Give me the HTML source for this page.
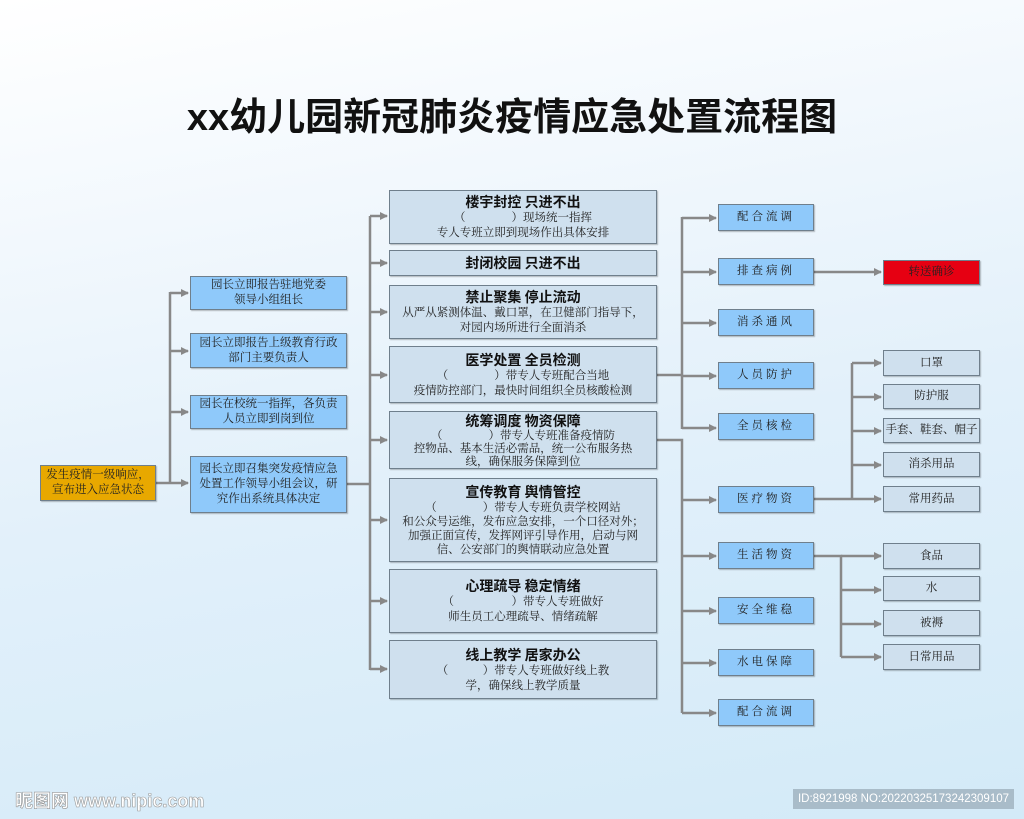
<!DOCTYPE html>
<html><head><meta charset="utf-8"><style>
*{margin:0;padding:0;box-sizing:border-box}
body{width:1024px;height:819px;overflow:hidden;position:relative;font-family:"Liberation Serif","Noto Serif CJK SC",serif;background:linear-gradient(170deg,#ffffff 0%,#f2f8fd 25%,#e2f0fa 55%,#d3eaf8 100%)}
.b{position:absolute;display:flex;flex-direction:column;align-items:center;justify-content:center;text-align:center;border:1px solid #6f7f8c;font-size:11.5px;line-height:15px;color:#222;box-shadow:1px 1px 1px rgba(0,0,0,.25)}
.bl{background:#8fc9fa}
.gr{background:#cfe0ee}
.h{font-family:"Noto Sans CJK SC",sans-serif;font-weight:bold;font-size:14px;line-height:18px;color:#111}
.sp{letter-spacing:3px}
svg{position:absolute;left:0;top:0}
</style></head><body>
<div style="position:absolute;left:0;top:86px;width:1024px;text-align:center;font-family:'Liberation Sans','Noto Sans CJK SC',sans-serif;font-weight:bold;font-size:38px;color:#111">xx幼儿园新冠肺炎疫情应急处置流程图</div>

<svg width="1024" height="819">
<defs><marker id="a" markerWidth="8" markerHeight="8" refX="7" refY="4" orient="auto" markerUnits="userSpaceOnUse"><path d="M0,0 L8,4 L0,8z" fill="#888"/></marker></defs>
<g stroke="#888" stroke-width="2.5" fill="none">
<path d="M156,483 H170 M170,292 V484"/>
<path d="M347,484 H370 M370,216 V670"/>
<path d="M657,375 H682 M682,217 V429 M657,440 H682 V713"/>
<path d="M814,499 H852 M852,363 V499"/>
<path d="M814,556 H841 V657"/>
</g>
<g stroke="#888" stroke-width="2.5" marker-end="url(#a)">
<line x1="170" y1="293" x2="188" y2="293"/><line x1="170" y1="351" x2="188" y2="351"/><line x1="170" y1="412" x2="188" y2="412"/><line x1="170" y1="483" x2="188" y2="483"/>
<line x1="370" y1="216" x2="387" y2="216"/><line x1="370" y1="263" x2="387" y2="263"/><line x1="370" y1="312" x2="387" y2="312"/><line x1="370" y1="375" x2="387" y2="375"/><line x1="370" y1="440" x2="387" y2="440"/><line x1="370" y1="520" x2="387" y2="520"/><line x1="370" y1="601" x2="387" y2="601"/><line x1="370" y1="669" x2="387" y2="669"/>
<line x1="682" y1="218" x2="716" y2="218"/><line x1="682" y1="272" x2="716" y2="272"/><line x1="682" y1="323" x2="716" y2="323"/><line x1="682" y1="376" x2="716" y2="376"/><line x1="682" y1="428" x2="716" y2="428"/><line x1="682" y1="500" x2="716" y2="500"/><line x1="682" y1="556" x2="716" y2="556"/><line x1="682" y1="611" x2="716" y2="611"/><line x1="682" y1="663" x2="716" y2="663"/><line x1="682" y1="713" x2="716" y2="713"/>
<line x1="814" y1="272" x2="881" y2="272"/>
<line x1="852" y1="363" x2="881" y2="363"/><line x1="852" y1="397" x2="881" y2="397"/><line x1="852" y1="431" x2="881" y2="431"/><line x1="852" y1="465" x2="881" y2="465"/><line x1="852" y1="499" x2="881" y2="499"/>
<line x1="841" y1="556" x2="881" y2="556"/><line x1="841" y1="590" x2="881" y2="590"/><line x1="841" y1="624" x2="881" y2="624"/><line x1="841" y1="657" x2="881" y2="657"/>
</g></svg>

<div class="b" style="left:40px;top:465px;width:116px;height:36px;background:#e8a800">发生疫情一级响应，<br>宣布进入应急状态</div>

<div class="b bl" style="left:190px;top:276px;width:157px;height:34px">园长立即报告驻地党委<br>领导小组组长</div>
<div class="b bl" style="left:190px;top:333px;width:157px;height:35px">园长立即报告上级教育行政<br>部门主要负责人</div>
<div class="b bl" style="left:190px;top:395px;width:157px;height:34px">园长在校统一指挥，各负责<br>人员立即到岗到位</div>
<div class="b bl" style="left:190px;top:456px;width:157px;height:57px">园长立即召集突发疫情应急<br>处置工作领导小组会议，研<br>究作出系统具体决定</div>

<div class="b gr" style="left:389px;top:190px;width:268px;height:54px"><div class="h">楼宇封控 只进不出</div>（　　　　）现场统一指挥<br>专人专班立即到现场作出具体安排</div>
<div class="b gr" style="left:389px;top:250px;width:268px;height:26px"><div class="h">封闭校园 只进不出</div></div>
<div class="b gr" style="left:389px;top:285px;width:268px;height:54px"><div class="h">禁止聚集 停止流动</div>从严从紧测体温、戴口罩，在卫健部门指导下，<br>对园内场所进行全面消杀</div>
<div class="b gr" style="left:389px;top:346px;width:268px;height:57px"><div class="h">医学处置 全员检测</div>（　　　　）带专人专班配合当地<br>疫情防控部门，最快时间组织全员核酸检测</div>
<div class="b gr" style="left:389px;top:411px;width:268px;height:58px;line-height:13px"><div class="h">统筹调度 物资保障</div>（　　　　）带专人专班准备疫情防<br>控物品、基本生活必需品，统一公布服务热<br>线，确保服务保障到位</div>
<div class="b gr" style="left:389px;top:478px;width:268px;height:84px;line-height:14px"><div class="h">宣传教育 舆情管控</div>（　　　　）带专人专班负责学校网站<br>和公众号运维，发布应急安排，一个口径对外；<br>加强正面宣传，发挥网评引导作用，启动与网<br>信、公安部门的舆情联动应急处置</div>
<div class="b gr" style="left:389px;top:569px;width:268px;height:64px"><div class="h">心理疏导 稳定情绪</div>（　　　　　）带专人专班做好<br>师生员工心理疏导、情绪疏解</div>
<div class="b gr" style="left:389px;top:640px;width:268px;height:59px"><div class="h">线上教学 居家办公</div>（　　　）带专人专班做好线上教<br>学，确保线上教学质量</div>

<div class="b bl sp" style="left:718px;top:204px;width:96px;height:27px">配合流调</div>
<div class="b bl sp" style="left:718px;top:258px;width:96px;height:27px">排查病例</div>
<div class="b bl sp" style="left:718px;top:309px;width:96px;height:27px">消杀通风</div>
<div class="b bl sp" style="left:718px;top:362px;width:96px;height:27px">人员防护</div>
<div class="b bl sp" style="left:718px;top:413px;width:96px;height:27px">全员核检</div>
<div class="b bl sp" style="left:718px;top:486px;width:96px;height:27px">医疗物资</div>
<div class="b bl sp" style="left:718px;top:542px;width:96px;height:27px">生活物资</div>
<div class="b bl sp" style="left:718px;top:597px;width:96px;height:27px">安全维稳</div>
<div class="b bl sp" style="left:718px;top:649px;width:96px;height:27px">水电保障</div>
<div class="b bl sp" style="left:718px;top:699px;width:96px;height:27px">配合流调</div>

<div class="b" style="left:883px;top:260px;width:97px;height:25px;background:#e60012;color:#222">转送确诊</div>
<div class="b gr" style="left:883px;top:350px;width:97px;height:26px">口罩</div>
<div class="b gr" style="left:883px;top:384px;width:97px;height:25px">防护服</div>
<div class="b gr" style="left:883px;top:418px;width:97px;height:25px">手套、鞋套、帽子</div>
<div class="b gr" style="left:883px;top:452px;width:97px;height:25px">消杀用品</div>
<div class="b gr" style="left:883px;top:486px;width:97px;height:26px">常用药品</div>
<div class="b gr" style="left:883px;top:543px;width:97px;height:26px">食品</div>
<div class="b gr" style="left:883px;top:576px;width:97px;height:25px">水</div>
<div class="b gr" style="left:883px;top:610px;width:97px;height:26px">被褥</div>
<div class="b gr" style="left:883px;top:644px;width:97px;height:26px">日常用品</div>

<div style="position:absolute;left:15px;top:787px;font-family:'Liberation Sans','Noto Sans CJK SC',sans-serif;font-size:18px;font-weight:bold;color:#fff;-webkit-text-stroke:0.6px #999">昵图网 www.nipic.com</div>
<div style="position:absolute;left:793px;top:789px;width:221px;height:20px;background:#a9bcc9;color:#fff;font-family:'Liberation Sans',sans-serif;font-size:11.5px;line-height:20px;text-align:center">ID:8921998 NO:20220325173242309107</div>
</body></html>
